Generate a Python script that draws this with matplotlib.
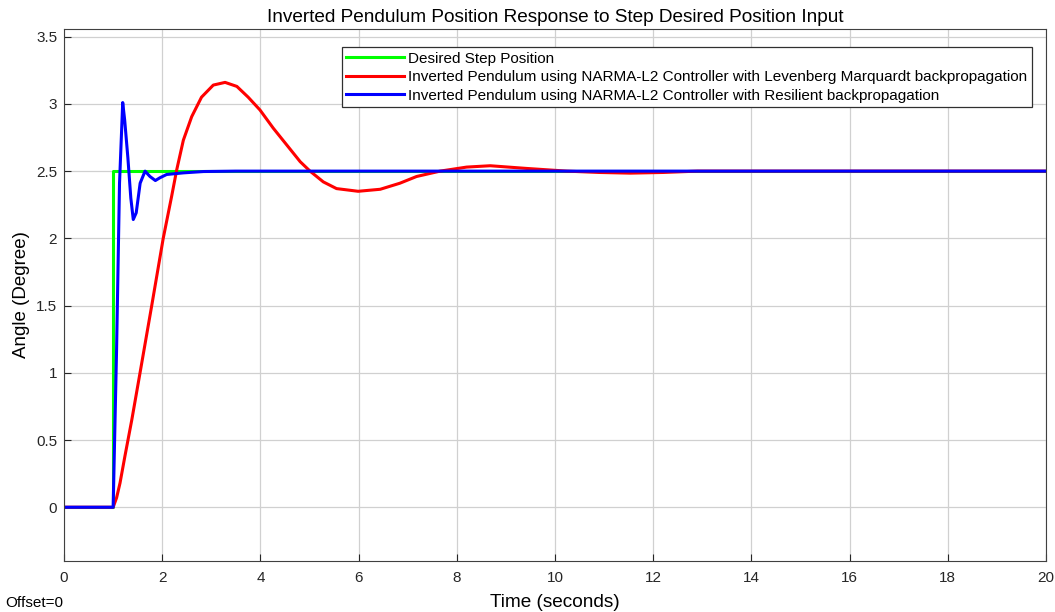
import matplotlib
matplotlib.use('Agg')
import matplotlib.pyplot as plt

plt.rcParams['font.family'] = ['Liberation Sans', 'DejaVu Sans']

# --- data ---
t_step = [0, 1.0, 1.0, 20]
y_step = [0, 0, 2.5, 2.5]

t_lm = [0, 1.0, 1.07, 1.14, 1.24, 1.38, 1.548, 1.786, 2.02, 2.19, 2.295, 2.43,
        2.60, 2.80, 3.04, 3.28, 3.52, 3.75, 3.99, 4.26, 4.535, 4.81, 5.01,
        5.28, 5.55, 5.99, 6.44, 6.84, 7.18, 7.66, 8.20, 8.68, 9.42, 10.24,
        10.9, 11.53, 12.2, 12.9, 20]
y_lm = [0, 0, 0.07, 0.18, 0.38, 0.65, 1.0, 1.5, 2.0, 2.31, 2.51, 2.73,
        2.905, 3.05, 3.14, 3.16, 3.13, 3.05, 2.955, 2.82, 2.695, 2.57, 2.50,
        2.42, 2.37, 2.35, 2.365, 2.41, 2.46, 2.50, 2.53, 2.54, 2.52, 2.50,
        2.49, 2.485, 2.49, 2.5, 2.5]

t_rp = [0, 1.0, 1.07, 1.13, 1.195, 1.235, 1.3, 1.36, 1.41, 1.47, 1.55, 1.65,
        1.75, 1.86, 1.95, 2.09, 2.43, 2.84, 3.5, 20]
y_rp = [0, 0, 1.17, 2.41, 3.01, 2.88, 2.6, 2.3, 2.14, 2.19, 2.41, 2.50,
        2.46, 2.43, 2.45, 2.475, 2.487, 2.497, 2.5, 2.5]

labels = ['Desired Step Position',
          'Inverted Pendulum using NARMA-L2 Controller with Levenberg Marquardt backpropagation',
          'Inverted Pendulum using NARMA-L2 Controller with Resilient backpropagation']

fig = plt.figure(figsize=(10.55, 6.12), dpi=100)
ax = fig.add_axes([0.0607, 0.0833, 0.9308, 0.8693])

ax.plot(t_step, y_step, color='#00ff00', lw=2.2, label=labels[0])
ax.plot(t_lm, y_lm, color='#ff0000', lw=2.2, label=labels[1])
ax.plot(t_rp, y_rp, color='#0000ff', lw=2.2, label=labels[2])

ax.set_xlim(0, 20)
ax.set_ylim(-0.4, 3.557)
ax.set_xticks(range(0, 21, 2))
ax.set_yticks([0, 0.5, 1, 1.5, 2, 2.5, 3, 3.5])
ax.set_yticklabels(['0', '0.5', '1', '1.5', '2', '2.5', '3', '3.5'])
ax.grid(True, color='#d0d0d0', lw=0.9)
ax.tick_params(direction='in', labelsize=11, colors='#262626', length=5)
ax.tick_params(axis='x', pad=7)
ax.tick_params(axis='y', pad=5)
for s in ax.spines.values():
    s.set_color('#404040')

ax.set_title('Inverted Pendulum Position Response to Step Desired Position Input',
             fontsize=13.7, pad=5)
ax.set_xlabel('Time (seconds)', fontsize=13.7, labelpad=7)
ax.set_ylabel('Angle (Degree)', fontsize=13.5, labelpad=4)

leg = ax.legend(loc='upper right', bbox_to_anchor=(0.9857, 0.966),
                borderaxespad=0, handlelength=3.8, handletextpad=0.25,
                labelspacing=0.3, borderpad=0.3, fancybox=False, framealpha=1,
                prop={'size': 11})
leg.get_frame().set_edgecolor('#303030')
leg.get_frame().set_linewidth(0.9)

fig.text(0.005, 0.008, 'Offset=0', fontsize=11)

fig.savefig('out.png', dpi=100)
